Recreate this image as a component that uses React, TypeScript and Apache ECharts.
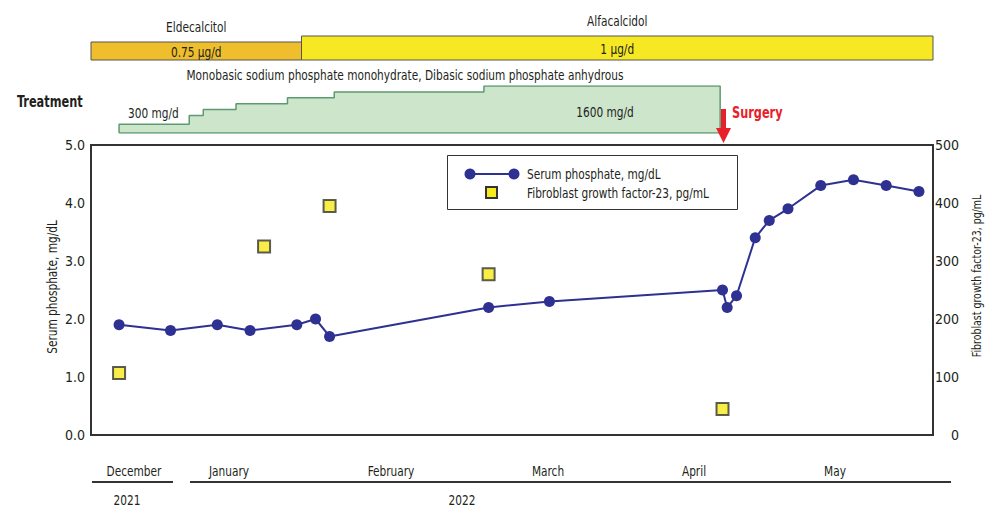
import React, { useEffect, useRef } from "react";
import * as echarts from "echarts";

// ---- data ----
const phosphateDays = [6, 17, 27, 34, 44, 48, 51, 85, 98, 135, 136, 138, 142, 145, 149, 156, 163, 170, 177];
const phosphateValues = [1.9, 1.8, 1.9, 1.8, 1.9, 2.0, 1.7, 2.2, 2.3, 2.5, 2.2, 2.4, 3.4, 3.7, 3.9, 4.3, 4.4, 4.3, 4.2];
const fgfDays = [6, 37, 51, 85, 135];
const fgfValues = [107, 325, 395, 277, 45];

const doseDays = [6, 21, 24, 31, 42, 52, 84];
const doseValues = [300, 600, 800, 1000, 1200, 1400, 1600];
const doseEndDay = 134.5;

const vitDNames = ["Eldecalcitol", "Alfacalcidol"];
const vitDStart = [0, 45];
const vitDEnd = [45, 180];
const vitDDose = [0.75, 1];
const vitDLabels = ["0.75 µg/d", "1 µg/d"];
const vitDColors = ["#EFBE2C", "#F6E823"];

const monthLabels = ["December", "January", "February", "March", "April", "May"];
const yearLabels = ["2021", "2022"];

const leftTicks = [0, 1, 2, 3, 4, 5];
const rightTicks = [0, 100, 200, 300, 400, 500];

const FONT = '"Liberation Sans Narrow", "DejaVu Sans Condensed", "Open Sans", sans-serif';
const TXT = "#231F20";
const SX = 0.84;

function txt(text: string, x: number, y: number, extra: any = {}, align = "center") {
  return {
    type: "text", x, y, scaleX: SX, z: extra.z ?? 10, rotation: extra.rotation ?? 0,
    style: {
      text, x: 0, y: 0, align, verticalAlign: "middle",
      fill: extra.fill ?? TXT, fontSize: extra.fontSize ?? 14, fontWeight: extra.fontWeight ?? "normal", fontFamily: FONT,
    },
  };
}

export default function App() {
  const ref = useRef<HTMLDivElement>(null);
  useEffect(() => {
    if (!ref.current) return;
    const chart = echarts.init(ref.current, undefined, { renderer: "svg" });

    const doseData: number[][] = [[doseDays[0], 0]];
    doseDays.forEach((d, i) => doseData.push([d, doseValues[i]]));
    doseData.push([doseEndDay, doseValues[doseValues.length - 1]]);
    doseData.push([doseEndDay, 0]);
    doseData.push([doseDays[0], 0]);

    const vitData = vitDNames.map((n, i) => [vitDStart[i], vitDEnd[i], vitDDose[i], i]);

    const xAxisBase = { type: "value", min: 0, max: 180, show: false };
    const monthX = [134, 229, 391, 548, 694, 835];
    const yearX = [127, 462];

    const option: any = {
      animation: false,
      textStyle: { fontFamily: FONT },
      grid: [
        { left: 91, right: 67, top: 145, bottom: 88, show: true, borderColor: "#333", borderWidth: 2 },
        { left: 91, right: 67, top: 86, height: 47 },
        { left: 91, right: 67, top: 36, height: 24 },
      ],
      xAxis: [
        { ...xAxisBase, gridIndex: 0 },
        { ...xAxisBase, gridIndex: 1 },
        { ...xAxisBase, gridIndex: 2 },
      ],
      yAxis: [
        {
          type: "value", gridIndex: 0, min: leftTicks[0], max: leftTicks[leftTicks.length - 1], interval: 1,
          axisLine: { show: false }, axisTick: { show: false }, splitLine: { show: false },
          axisLabel: { formatter: (v: number) => v.toFixed(1), color: TXT, fontSize: 14, margin: 6, fontFamily: FONT },
        },
        {
          type: "value", gridIndex: 0, position: "right", min: rightTicks[0], max: rightTicks[rightTicks.length - 1], interval: 100,
          axisLine: { show: false }, axisTick: { show: false }, splitLine: { show: false },
          axisLabel: { color: TXT, fontSize: 14, margin: 26, align: "right", fontFamily: FONT },
        },
        { type: "value", gridIndex: 1, min: 0, max: 1600, show: false },
        { type: "value", gridIndex: 2, min: 0, max: 1, show: false },
      ],
      series: [
        {
          name: "Serum phosphate, mg/dL", type: "line", xAxisIndex: 0, yAxisIndex: 0,
          data: phosphateDays.map((d, i) => [d, phosphateValues[i]]),
          symbol: "circle", symbolSize: 11,
          itemStyle: { color: "#2E3192" }, lineStyle: { color: "#2E3192", width: 2 },
          z: 3,
        },
        {
          name: "Fibroblast growth factor-23, pg/mL", type: "scatter", xAxisIndex: 0, yAxisIndex: 1,
          data: fgfDays.map((d, i) => [d, fgfValues[i]]),
          symbol: "rect", symbolSize: 12,
          itemStyle: { color: "#F7EA1A", borderColor: "#333", borderWidth: 2 },
          z: 4,
        },
        {
          type: "line", xAxisIndex: 1, yAxisIndex: 2, step: "end", data: doseData,
          symbol: "none", lineStyle: { color: "#5C9B70", width: 1.5 },
          areaStyle: { color: "#CDE5CB", opacity: 1 },
          silent: true,
        },
        {
          type: "custom", xAxisIndex: 2, yAxisIndex: 3, data: vitData, clip: false, silent: true,
          renderItem: (params: any, api: any) => {
            const i = api.value(3);
            const p0 = api.coord([api.value(0), api.value(2)]);
            const p1 = api.coord([api.value(1), 0]);
            const cx = (p0[0] + p1[0]) / 2;
            return {
              type: "group",
              children: [
                {
                  type: "rect",
                  shape: { x: p0[0], y: p0[1], width: p1[0] - p0[0], height: p1[1] - p0[1] },
                  style: { fill: vitDColors[i], stroke: "#555", lineWidth: 1 },
                },
                {
                  type: "text", x: cx, y: (p0[1] + p1[1]) / 2 + 1, scaleX: SX,
                  style: { text: vitDLabels[i], x: 0, y: 0, align: "center", verticalAlign: "middle", fill: TXT, fontSize: 14, fontFamily: FONT },
                },
                {
                  type: "text", x: cx, y: p0[1] - 15, scaleX: SX,
                  style: { text: vitDNames[i], x: 0, y: 0, align: "center", verticalAlign: "middle", fill: TXT, fontSize: 14, fontFamily: FONT },
                },
              ],
            };
          },
        },
      ],
      graphic: [
        // axis titles
        txt("Serum phosphate, mg/dL", 52, 287, { rotation: Math.PI / 2 }),
        txt("Fibroblast growth factor-23, pg/mL", 977, 276, { rotation: Math.PI / 2, fontSize: 12.5 }),
        // treatment texts
        txt("Treatment", 17, 102, { fontSize: 15, fontWeight: "bold" }, "left"),
        txt("Monobasic sodium phosphate monohydrate, Dibasic sodium phosphate anhydrous", 405, 75),
        txt("300 mg/d", 128, 113, {}, "left"),
        txt("1600 mg/d", 605, 112),
        // surgery arrow
        { type: "rect", shape: { x: 721, y: 109, width: 5, height: 20 }, style: { fill: "#E8202A" }, z: 10 },
        { type: "polygon", shape: { points: [[716, 128], [731, 128], [723.5, 143]] }, style: { fill: "#E8202A" }, z: 10 },
        txt("Surgery", 732, 113, { fill: "#E8202A", fontSize: 15, fontWeight: "bold" }, "left"),
        // legend
        { type: "rect", shape: { x: 447.5, y: 155.5, width: 290, height: 54 }, style: { fill: "#fff", stroke: "#333", lineWidth: 1 }, z: 20 },
        { type: "line", shape: { x1: 470, y1: 174, x2: 514, y2: 174 }, style: { stroke: "#2E3192", lineWidth: 2 }, z: 21 },
        { type: "circle", shape: { cx: 470, cy: 174, r: 5.5 }, style: { fill: "#2E3192" }, z: 21 },
        { type: "circle", shape: { cx: 514, cy: 174, r: 5.5 }, style: { fill: "#2E3192" }, z: 21 },
        { type: "rect", shape: { x: 486, y: 187, width: 11, height: 11 }, style: { fill: "#F7EA1A", stroke: "#333", lineWidth: 2 }, z: 21 },
        txt("Serum phosphate, mg/dL", 527, 174, { z: 21 }, "left"),
        txt("Fibroblast growth factor-23, pg/mL", 527, 193, { z: 21 }, "left"),
        // bottom timeline
        ...monthLabels.map((m, i) => txt(m, monthX[i], 471)),
        { type: "line", shape: { x1: 92, y1: 482, x2: 173, y2: 482 }, style: { stroke: "#333", lineWidth: 2 } },
        { type: "line", shape: { x1: 190, y1: 482, x2: 951, y2: 482 }, style: { stroke: "#333", lineWidth: 2 } },
        ...yearLabels.map((y, i) => txt(y, yearX[i], 500)),
      ],
    };
    chart.setOption(option);
    return () => chart.dispose();
  }, []);
  return <div ref={ref} style={{ position: "fixed", left: 0, top: 0, width: 1000, height: 523, background: "#fff" }} />;
}
